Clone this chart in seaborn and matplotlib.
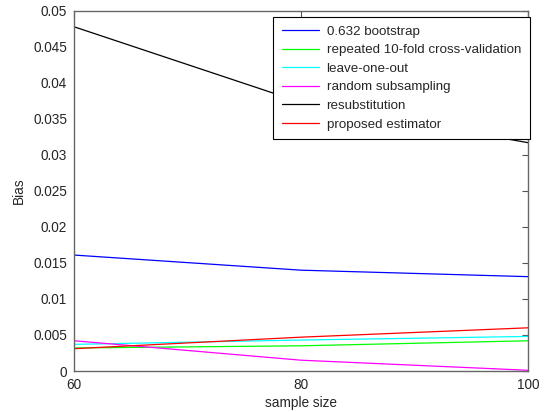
import numpy as np
import pandas as pd
import seaborn as sns
import matplotlib.pyplot as plt
from matplotlib.ticker import FuncFormatter

sample_size = [60, 80, 100]
methods = [
    "0.632 bootstrap",
    "repeated 10-fold cross-validation",
    "leave-one-out",
    "random subsampling",
    "resubstitution",
    "proposed estimator",
]
bias_bootstrap = [0.0161, 0.0140, 0.0131]
bias_cv10 = [0.0032, 0.0035, 0.0042]
bias_loo = [0.0037, 0.0043, 0.0048]
bias_subsampling = [0.0042, 0.0015, 0.0001]
bias_resub = [0.0478, 0.0373, 0.0317]
bias_proposed = [0.0031, 0.0047, 0.0060]
colors = ["#0000ff", "#00ff00", "#00ffff", "#ff00ff", "#000000", "#ff0000"]

series = [bias_bootstrap, bias_cv10, bias_loo, bias_subsampling, bias_resub, bias_proposed]
rows = []
for name, vals in zip(methods, series):
    for n, v in zip(sample_size, vals):
        rows.append({"sample size": n, "Bias": v, "method": name})
df = pd.DataFrame(rows)

sns.set_style("white")
plt.rcParams["font.family"] = ["Liberation Sans", "DejaVu Sans"]

fig = plt.figure(figsize=(5.44, 4.12), dpi=100)
ax = fig.add_axes([0.136, 0.0995, 0.835, 0.874])

sns.lineplot(data=df, x="sample size", y="Bias", hue="method", hue_order=methods,
             palette=dict(zip(methods, colors)), linewidth=0.9, ax=ax)

ax.set_xlim(60, 100)
ax.set_ylim(0, 0.05)
ax.set_xticks([60, 80, 100])
ax.set_yticks(np.arange(0, 0.0501, 0.005))
ax.yaxis.set_major_formatter(FuncFormatter(lambda v, p: ("%g" % round(v, 4))))
ax.tick_params(direction="in", length=4, width=0.8, color="#555555",
               top=True, right=True, labelsize=9.8)
ax.tick_params(axis="x", pad=5)
ax.tick_params(axis="y", pad=5)
for s in ax.spines.values():
    s.set_color("#666666")
    s.set_linewidth(1.0)
ax.set_xlabel("sample size", fontsize=9.8, labelpad=3)
ax.set_ylabel("Bias", fontsize=9.8, labelpad=5)

leg = ax.legend(loc="upper right", bbox_to_anchor=(1.003, 0.984), fontsize=9.6,
                frameon=True, fancybox=False, framealpha=1.0,
                handlelength=2.75, borderaxespad=0, labelspacing=0.47,
                borderpad=0.65, handletextpad=0.6)
leg.get_frame().set_edgecolor("black")
leg.get_frame().set_linewidth(0.8)

fig.savefig("out.png", dpi=100)
